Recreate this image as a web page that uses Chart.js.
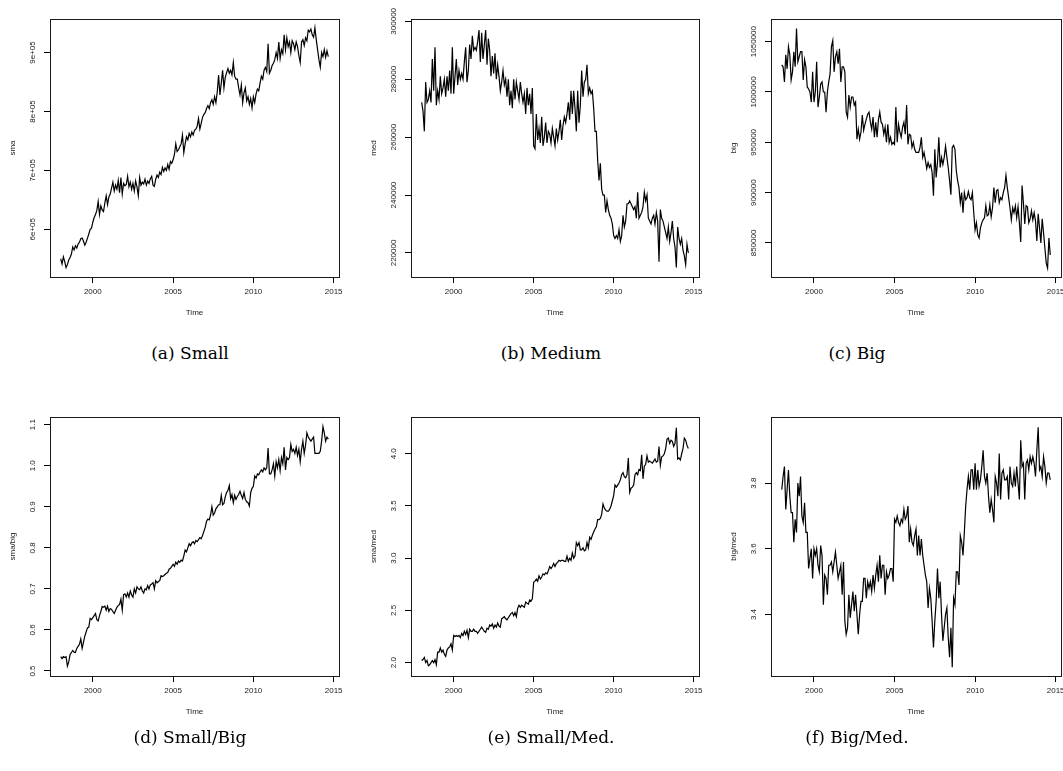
<!DOCTYPE html>
<html>
<head>
<meta charset="utf-8">
<script src="https://cdn.jsdelivr.net/npm/chart.js@4.4.1/dist/chart.umd.min.js"></script>
<style>
  body { margin: 0; background: #fff; width: 1063px; height: 771px; position: relative; overflow: hidden; }
  canvas { position: absolute; }
  .cap { position: absolute; font-family: "DejaVu Serif", serif; font-size: 17px; color: #000;
         transform: translate(-50%, -50%); white-space: nowrap; }
</style>
</head>
<body>
<canvas id="chart-sma"></canvas>
<canvas id="chart-med"></canvas>
<canvas id="chart-big"></canvas>
<canvas id="chart-smabig"></canvas>
<canvas id="chart-smamed"></canvas>
<canvas id="chart-bigmed"></canvas>
<div class="cap" style="left:190px;top:353px">(a) Small</div>
<div class="cap" style="left:551px;top:353px">(b) Medium</div>
<div class="cap" style="left:857px;top:353px">(c) Big</div>
<div class="cap" style="left:190px;top:737px">(d) Small/Big</div>
<div class="cap" style="left:551px;top:737px">(e) Small/Med.</div>
<div class="cap" style="left:857px;top:737px">(f) Big/Med.</div>
<script>
// monthly series, Jan 1998 .. Sep 2014
const startYear = 1998

// thousands
const sma = [
  550, 541, 553, 545, 535, 540, 548, 552, 558, 570, 565, 572,
  568, 575, 578, 584, 585, 580, 573, 578, 585, 592, 600, 602,
  612, 620, 625, 632, 647, 625, 640, 633, 630, 645, 657, 642,
  655, 660, 670, 680, 665, 675, 668, 683, 662, 688, 660, 678,
  674, 676, 690, 672, 680, 668, 678, 665, 682, 672, 657, 688,
  675, 680, 677, 685, 675, 682, 678, 686, 690, 675, 673, 685,
  692, 688, 697, 693, 705, 698, 704, 700, 710, 702, 715, 712,
  718, 727, 745, 732, 735, 740, 745, 760, 730, 745, 757, 752,
  763, 757, 765, 760, 768, 770, 775, 788, 770, 780, 790, 795,
  798, 805, 810, 805, 815, 820, 812, 825, 815, 833, 862, 828,
  848, 870, 840, 858, 866, 873, 865, 870, 862, 883, 860, 855,
  855, 840, 828, 845, 815, 832, 840, 818, 825, 812, 822, 806,
  825, 815, 830, 838, 835, 848, 860, 855, 870, 875, 868, 915,
  865, 870, 878, 882, 888, 900, 890, 918, 890, 905, 898, 930,
  905, 925, 910, 918, 900, 920, 915, 905, 918, 910, 895, 883,
  918, 922, 912, 925, 920, 938, 935, 940, 930, 926, 942, 922,
  905, 888, 875, 900, 893, 905, 892, 903, 893
]

const med = [
  272, 269, 262, 279, 272, 273, 276, 272, 287, 276, 291, 271,
  276, 273, 281, 275, 277, 280, 274, 281, 276, 283, 275, 291,
  275, 281, 287, 278, 283, 280, 282, 280, 286, 291, 279, 283,
  292, 287, 295, 290, 291, 290, 293, 297, 286, 296, 287, 292,
  297, 285, 294, 290, 281, 288, 282, 289, 280, 285, 281, 276,
  279, 283, 278, 280, 274, 280, 271, 276, 270, 280, 273, 279,
  276, 273, 279, 275, 272, 275, 268, 277, 271, 275, 268, 277,
  257, 256, 268, 259, 263, 258, 267, 257, 260, 265, 258, 262,
  261, 258, 263, 260, 257, 263, 259, 262, 266, 259, 264, 267,
  265, 268, 272, 266, 276, 268, 276, 270, 262, 276, 265, 271,
  283, 274, 279, 280, 285, 275, 277, 275, 276, 270, 262, 262,
  252, 245, 251, 242, 240, 240, 234, 238, 235, 233, 232, 230,
  226, 225, 226, 225, 228, 224, 226, 233, 229, 231, 237, 237,
  238, 237, 236, 235, 236, 232, 241, 232, 233, 234, 236, 241,
  238, 240, 232, 231, 230, 232, 233, 230, 234, 231, 217, 235,
  232, 231, 229, 227, 225, 229, 224, 227, 231, 225, 222, 215,
  229, 225, 223, 225, 221, 219, 216, 223, 220
]

const big = [
  1027, 1025, 1010, 1037, 1023, 1045, 1037, 1012, 1020, 1040, 1025, 1063,
  1030, 1035, 1040, 1040, 1012, 1032, 1025, 1005, 1003, 1000, 990, 1020,
  990, 1000, 1030, 985, 995, 1008, 1010, 1000, 1000, 980, 1000, 1010,
  1018, 1045, 1051, 1020, 1035, 1040, 1028, 1043, 1010, 1025, 1025, 1020,
  980, 975, 997, 985, 995, 995, 987, 990, 953, 963, 953, 960,
  977, 962, 968, 973, 978, 980, 970, 963, 975, 955, 970, 955,
  972, 980, 970, 968, 958, 965, 950, 968, 950, 955, 948, 950,
  948, 985, 950, 968, 960, 955, 965, 970, 958, 987, 948, 958,
  957, 945, 950, 943, 940, 940, 940, 945, 955, 935, 940, 932,
  924, 930, 925, 928, 920, 897, 943, 915, 930, 955, 925, 935,
  928, 935, 946, 935, 925, 912, 898, 945, 947, 943, 922, 912,
  905, 890, 900, 880, 900, 893, 895, 901, 895, 893, 900, 880,
  863, 870, 858, 855, 865, 870, 873, 875, 887, 877, 878, 888,
  876, 885, 905, 890, 902, 903, 890, 895, 893, 900, 905, 917,
  905, 895, 885, 873, 885, 880, 887, 875, 886, 870, 851, 907,
  890, 869, 887, 886, 870, 874, 882, 873, 880, 872, 852, 879,
  865, 850, 874, 860, 845, 830, 825, 855, 838
]

const smaBig = [
  0.535, 0.530, 0.535, 0.533, 0.535, 0.512, 0.522, 0.540, 0.545, 0.550, 0.546, 0.545,
  0.555, 0.560, 0.565, 0.578, 0.555, 0.570, 0.585, 0.595, 0.605, 0.607, 0.628, 0.625,
  0.630, 0.635, 0.640, 0.625, 0.622, 0.635, 0.645, 0.657, 0.655, 0.658, 0.648, 0.658,
  0.645, 0.652, 0.650, 0.645, 0.640, 0.648, 0.655, 0.660, 0.662, 0.675, 0.648, 0.686,
  0.688, 0.680, 0.690, 0.680, 0.695, 0.685, 0.680, 0.700, 0.690, 0.705, 0.700, 0.698,
  0.705, 0.695, 0.690, 0.700, 0.698, 0.708, 0.700, 0.710, 0.712, 0.715, 0.700, 0.720,
  0.715, 0.718, 0.720, 0.732, 0.730, 0.732, 0.735, 0.738, 0.740, 0.748, 0.750, 0.755,
  0.760, 0.755, 0.765, 0.760, 0.768, 0.765, 0.770, 0.768, 0.780, 0.795, 0.790, 0.800,
  0.810, 0.805, 0.812, 0.815, 0.810, 0.818, 0.815, 0.820, 0.825, 0.822, 0.830, 0.840,
  0.850, 0.865, 0.870, 0.868, 0.880, 0.900, 0.880, 0.885, 0.895, 0.900, 0.905, 0.905,
  0.928, 0.905, 0.908, 0.925, 0.935, 0.940, 0.952, 0.920, 0.930, 0.910, 0.928, 0.918,
  0.925, 0.930, 0.938, 0.928, 0.920, 0.935, 0.918, 0.912, 0.910, 0.902, 0.935, 0.945,
  0.950, 0.975, 0.970, 0.980, 0.978, 0.985, 0.990, 0.985, 0.995, 0.990, 0.995, 1.043,
  0.980, 0.980, 0.990, 1.005, 0.975, 1.010, 0.995, 1.015, 0.988, 1.020, 1.005, 1.045,
  0.990, 1.020, 1.015, 1.020, 1.052, 1.035, 1.040, 1.030, 1.045, 1.025, 1.040, 1.010,
  1.040, 1.060, 1.030, 1.050, 1.080, 1.070, 1.065, 1.060, 1.065, 1.070, 1.030, 1.030,
  1.030, 1.030, 1.035, 1.060, 1.095, 1.080, 1.060, 1.070, 1.065
]

const smaMed = [
  2.02, 2.03, 2.05, 2.00, 2.02, 1.97, 1.98, 2.00, 2.02, 2.00, 2.03, 1.98,
  2.10, 2.10, 2.14, 2.10, 2.12, 2.08, 2.06, 2.12, 2.14, 2.15, 2.18, 2.12,
  2.26, 2.25, 2.26, 2.25, 2.26, 2.24, 2.28, 2.26, 2.30, 2.27, 2.31, 2.24,
  2.32, 2.30, 2.30, 2.32, 2.30, 2.30, 2.28, 2.30, 2.32, 2.34, 2.32, 2.30,
  2.29, 2.33, 2.32, 2.36, 2.35, 2.37, 2.33, 2.36, 2.34, 2.38, 2.35, 2.34,
  2.42, 2.43, 2.44, 2.42, 2.41, 2.43, 2.45, 2.47, 2.48, 2.45, 2.48, 2.44,
  2.52, 2.55, 2.53, 2.55, 2.54, 2.53, 2.58, 2.57, 2.56, 2.60, 2.59, 2.61,
  2.77, 2.78, 2.80, 2.78, 2.83, 2.80, 2.82, 2.85, 2.84, 2.86, 2.85, 2.88,
  2.92, 2.90, 2.92, 2.95, 2.92, 2.95, 2.96, 2.98, 2.97, 2.98, 2.98, 2.97,
  2.97, 3.02, 2.97, 3.00, 2.98, 3.05, 3.00, 3.02, 3.15, 3.12, 3.15, 3.08,
  3.08, 3.10, 3.07, 3.08, 3.15, 3.10, 3.20, 3.18, 3.22, 3.25, 3.28, 3.30,
  3.37, 3.37, 3.38, 3.42, 3.52, 3.48, 3.46, 3.45, 3.45, 3.47, 3.50, 3.55,
  3.60, 3.70, 3.68, 3.70, 3.72, 3.75, 3.80, 3.82, 3.78, 3.77, 3.80, 3.96,
  3.63, 3.67, 3.68, 3.70, 3.80, 3.82, 3.80, 3.85, 3.84, 3.99, 3.76, 3.88,
  3.90, 3.98, 3.92, 3.93, 3.92, 3.91, 3.93, 3.95, 3.92, 3.93, 4.07, 3.89,
  3.97, 3.98, 4.00, 4.05, 4.14, 4.15, 4.10, 4.13, 4.12, 4.07, 4.10, 4.25,
  3.95, 3.96, 3.94, 4.00, 4.05, 4.15, 4.13, 4.08, 4.05
]

const bigMed = [
  3.78, 3.82, 3.85, 3.72, 3.78, 3.84, 3.76, 3.71, 3.71, 3.62, 3.69, 3.65,
  3.80, 3.76, 3.82, 3.70, 3.68, 3.74, 3.65, 3.65, 3.54, 3.57, 3.60, 3.51,
  3.60, 3.58, 3.60, 3.55, 3.53, 3.61, 3.58, 3.43, 3.52, 3.51, 3.46, 3.55,
  3.55, 3.56, 3.53, 3.56, 3.59, 3.55, 3.51, 3.53, 3.55, 3.46, 3.56, 3.38,
  3.34, 3.36, 3.46, 3.39, 3.43, 3.47, 3.41, 3.46, 3.40, 3.34, 3.40, 3.44,
  3.44, 3.51, 3.51, 3.45, 3.50, 3.48, 3.50, 3.47, 3.52, 3.48, 3.52, 3.55,
  3.50, 3.58, 3.51, 3.55, 3.55, 3.46, 3.53, 3.51, 3.52, 3.54, 3.54, 3.50,
  3.69, 3.68, 3.70, 3.68, 3.67, 3.69, 3.68, 3.72, 3.69, 3.70, 3.73, 3.62,
  3.66, 3.62, 3.61, 3.64, 3.66, 3.58, 3.64, 3.58, 3.63, 3.58, 3.55, 3.52,
  3.50, 3.42, 3.48, 3.45, 3.38, 3.30, 3.38, 3.44, 3.54, 3.45, 3.50, 3.40,
  3.32, 3.36, 3.40, 3.42, 3.33, 3.27, 3.36, 3.24, 3.45, 3.43, 3.53, 3.53,
  3.49, 3.64, 3.62, 3.58, 3.65, 3.73, 3.78, 3.82, 3.78, 3.84, 3.84, 3.78,
  3.86, 3.78, 3.84, 3.79, 3.81, 3.85, 3.90, 3.82, 3.80, 3.83, 3.76, 3.71,
  3.75, 3.72, 3.68, 3.82, 3.80, 3.76, 3.89, 3.75, 3.83, 3.84, 3.81, 3.81,
  3.82, 3.75, 3.85, 3.80, 3.79, 3.83, 3.79, 3.85, 3.80, 3.75, 3.93, 3.85,
  3.86, 3.75, 3.86, 3.87, 3.84, 3.88, 3.86, 3.88, 3.86, 3.82, 3.90, 3.97,
  3.84, 3.85, 3.82, 3.88, 3.85, 3.80, 3.83, 3.83, 3.81
]

const yearTicks = [2000, 2005, 2010, 2015]
const smaTicks = [600000, 700000, 800000, 900000]
const smaTickLabels = ['6e+05', '7e+05', '8e+05', '9e+05']
const medTicks = [220000, 240000, 260000, 280000, 300000]
const bigTicks = [850000, 900000, 950000, 1000000, 1050000]
const smaBigTicks = [0.5, 0.6, 0.7, 0.8, 0.9, 1.0, 1.1]
const smaMedTicks = [2.0, 2.5, 3.0, 3.5, 4.0]
const bigMedTicks = [3.4, 3.6, 3.8]

const axisFont = { family: 'Liberation Sans', size: 8 }
const ink = '#000'
const textInk = '#222'

// draws the box around the plot region and the rotated y tick labels (R style)
const framePlugin = {
  id: 'frame',
  afterDraw (chart, args, opts) {
    const { ctx, chartArea: a } = chart
    const y = chart.scales.y
    ctx.save()
    ctx.strokeStyle = '#1a1a1a'
    ctx.lineWidth = 1
    ctx.strokeRect(a.left + 0.5, a.top + 0.5, a.right - a.left, a.bottom - a.top)
    ctx.font = `${axisFont.size}px "${axisFont.family}"`
    ctx.fillStyle = textInk
    ctx.textAlign = 'center'
    ctx.textBaseline = 'middle'
    opts.ticks.forEach((v, i) => {
      ctx.save()
      ctx.translate(a.left - 17, y.getPixelForValue(v))
      ctx.rotate(-Math.PI / 2)
      ctx.fillText(opts.labels[i], 0, 0)
      ctx.restore()
    })
    ctx.restore()
  }
}

const panels = [
  { id: 'chart-sma', values: sma, scale: 1000, name: 'sma', ticks: smaTicks, labels: smaTickLabels,
    min: 519000, max: 957000, box: [50, 19, 339, 277] },
  { id: 'chart-med', values: med, scale: 1000, name: 'med', ticks: medTicks, labels: medTicks.map(String),
    min: 211700, max: 300800, box: [411, 19, 699, 277] },
  { id: 'chart-big', values: big, scale: 1000, name: 'big', ticks: bigTicks, labels: bigTicks.map(String),
    min: 816200, max: 1072500, box: [771, 19, 1061, 277] },
  { id: 'chart-smabig', values: smaBig, scale: 1, name: 'sma/big', ticks: smaBigTicks, labels: smaBigTicks.map((v) => v.toFixed(1)),
    min: 0.4878, max: 1.1188, box: [50, 417, 339, 676] },
  { id: 'chart-smamed', values: smaMed, scale: 1, name: 'sma/med', ticks: smaMedTicks, labels: smaMedTicks.map((v) => v.toFixed(1)),
    min: 1.872, max: 4.352, box: [411, 417, 699, 676] },
  { id: 'chart-bigmed', values: bigMed, scale: 1, name: 'big/med', ticks: bigMedTicks, labels: bigMedTicks.map((v) => v.toFixed(1)),
    min: 3.213, max: 4.001, box: [771, 417, 1061, 676] }
]

const axisLeft = 50
const axisBottom = 53
const padTop = 19
const padRight = 14

const renderPanel = (p) => {
  const [l, t, r, b] = p.box
  const canvas = document.getElementById(p.id)
  canvas.width = (r - l) + axisLeft + padRight
  canvas.height = (b - t) + padTop + axisBottom
  canvas.style.left = (l - axisLeft) + 'px'
  canvas.style.top = (t - padTop) + 'px'

  const points = p.values.map((v, i) => ({ x: startYear + i / 12, y: v * p.scale }))

  new Chart(canvas, {
    type: 'line',
    data: {
      datasets: [
        {
          data: points,
          borderColor: ink,
          borderWidth: 1.2,
          pointRadius: 0,
          tension: 0,
          fill: false
        }
      ]
    },
    options: {
      responsive: false,
      animation: false,
      events: [],
      layout: { padding: { left: 0, top: padTop, right: padRight, bottom: 0 } },
      plugins: {
        legend: { display: false },
        tooltip: { enabled: false },
        frame: { ticks: p.ticks, labels: p.labels }
      },
      scales: {
        x: {
          type: 'linear',
          min: 1997.333,
          max: 2015.333,
          afterBuildTicks: (s) => { s.ticks = yearTicks.map((v) => ({ value: v })) },
          afterFit: (s) => { s.height = axisBottom },
          ticks: { font: axisFont, color: textInk, padding: 4, maxRotation: 0, autoSkip: false, callback: (v) => String(v) },
          grid: { drawOnChartArea: false, drawTicks: true, tickLength: 6, color: ink, lineWidth: 1 },
          border: { display: false },
          title: { display: true, text: 'Time', font: axisFont, color: textInk, padding: { top: 0, bottom: 12 } }
        },
        y: {
          type: 'linear',
          min: p.min,
          max: p.max,
          afterBuildTicks: (s) => { s.ticks = p.ticks.map((v) => ({ value: v })) },
          afterFit: (s) => { s.width = axisLeft },
          ticks: { display: false },
          grid: { drawOnChartArea: false, drawTicks: true, tickLength: 6, color: ink, lineWidth: 1 },
          border: { display: false },
          title: { display: true, text: p.name, font: axisFont, color: textInk, padding: { top: 8, bottom: 0 } }
        }
      }
    },
    plugins: [framePlugin]
  })
}

panels.forEach(renderPanel)
</script>
</body>
</html>
